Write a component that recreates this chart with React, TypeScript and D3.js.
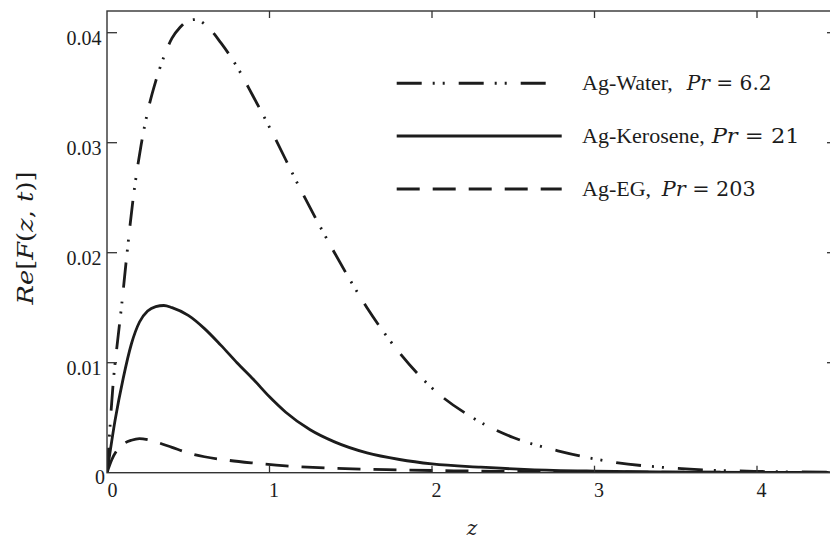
import React from "react";
import * as d3 from "d3";

// ---- data ----
const xTicks = [1, 2, 3, 4];
const yTicks = [0.01, 0.02, 0.03, 0.04];
const yTickLabels = ["0.01", "0.02", "0.03", "0.04"];

const zWater = [0, 0.02, 0.04, 0.06, 0.09, 0.12, 0.16, 0.21, 0.25, 0.3, 0.35, 0.4, 0.45, 0.5, 0.55, 0.6, 0.7, 0.8, 0.9, 1.0, 1.2, 1.4, 1.6, 1.8, 2.0, 2.25, 2.5, 2.8, 3.1, 3.5, 4.0, 4.5];
const vWater = [0, 0.0045, 0.0085, 0.0113, 0.0152, 0.0195, 0.0248, 0.0298, 0.0328, 0.0356, 0.0378, 0.0395, 0.0405, 0.0411, 0.0412, 0.0408, 0.0391, 0.0369, 0.0342, 0.0314, 0.0255, 0.02, 0.015, 0.0109, 0.0077, 0.005, 0.0032, 0.0019, 0.001, 0.0004, 0.00012, 0.00004];

const zKero = [0, 0.05, 0.1, 0.15, 0.2, 0.25, 0.3, 0.35, 0.4, 0.5, 0.6, 0.7, 0.8, 0.9, 1.0, 1.1, 1.25, 1.4, 1.6, 1.8, 2.0, 2.3, 2.6, 3.0, 3.5, 4.0, 4.5];
const vKero = [0, 0.0048, 0.0086, 0.0117, 0.0137, 0.0147, 0.0151, 0.0152, 0.015, 0.0143, 0.0131, 0.0116, 0.01, 0.0085, 0.0069, 0.0055, 0.0039, 0.0028, 0.0018, 0.0012, 0.0008, 0.0005, 0.00028, 0.00014, 0.00006, 0.00003, 0.00001];

const zEG = [0, 0.03, 0.06, 0.1, 0.15, 0.2, 0.25, 0.3, 0.4, 0.5, 0.6, 0.75, 0.9, 1.1, 1.4, 1.8, 2.2, 2.8, 3.5, 4.5];
const vEG = [0, 0.0012, 0.002, 0.0026, 0.00295, 0.0031, 0.003, 0.0028, 0.0023, 0.0018, 0.00145, 0.00112, 0.00088, 0.00062, 0.0004, 0.00025, 0.00016, 0.00009, 0.00005, 0.00002];

const seriesNames = ["Ag-Water,", "Ag-Kerosene,", "Ag-EG,"];
const seriesPr = ["6.2", "21", "203"];

const W = 830;
const H = 541;
const left = 107;
const right = 834;
const top = 11;
const bottom = 472.7;

const SERIF = "'Liberation Serif', 'Times New Roman', serif";
const MATH = "'DejaVu Serif', serif";

export default function App() {
  const x = d3.scaleLinear().domain([0, (right - left) / 162.5]).range([left, right]);
  const y = d3.scaleLinear().domain([0, (bottom - top) / 11000]).range([bottom, top]);

  const mk = (zs: number[], vs: number[]) =>
    d3
      .line<number>()
      .x((_, i) => x(zs[i]))
      .y((_, i) => y(vs[i]))
      .curve(d3.curveMonotoneX)(vs) || "";

  const series = [
    { d: mk(zWater, vWater), dash: "25,11,2,8,2,14" },
    { d: mk(zKero, vKero), dash: "none" },
    { d: mk(zEG, vEG), dash: "23,13" },
  ];

  const ink = "#1c1c1c";
  const legendY = [83.3, 136, 189];
  const legendX1 = [396.7, 396.7, 396.7];
  const legendX2 = [549, 561.7, 561.7];
  const prX = [686.7, 711.7, 661.7];
  const prLen = [85, 88, 94];

  return (
    <svg
      width={W}
      height={H}
      style={{ position: "absolute", left: 0, top: 0, background: "#fff" }}
    >
      <rect x={0} y={0} width={W} height={H} fill="#fff" />
      <defs>
        <clipPath id="plotclip">
          <rect x={left} y={top} width={right - left} height={bottom - top} />
        </clipPath>
      </defs>

      {/* curves */}
      <g clipPath="url(#plotclip)">
        {series.map((s, i) => (
          <path
            key={i}
            d={s.d}
            fill="none"
            stroke={ink}
            strokeWidth={2.8}
            strokeDasharray={s.dash}
          />
        ))}
      </g>

      {/* frame */}
      <rect x={left} y={top} width={right - left} height={bottom - top} fill="none" stroke="#333" strokeWidth={1.4} />

      {/* y ticks */}
      {yTicks.map((t, i) => (
        <g key={"y" + i}>
          <line x1={left} x2={left + 10} y1={y(t)} y2={y(t)} stroke="#333" strokeWidth={1.3} />
          <line x1={right} x2={right - 7} y1={y(t)} y2={y(t)} stroke="#333" strokeWidth={1.3} />
          <text x={101.5} y={y(t) + 12} textAnchor="end" fontSize={20} fontFamily={SERIF} fill={ink}>
            {yTickLabels[i]}
          </text>
        </g>
      ))}
      <text x={105} y={484} textAnchor="end" fontSize={20} fontFamily={SERIF} fill={ink}>0</text>

      {/* x ticks */}
      {xTicks.map((t, i) => (
        <g key={"x" + i}>
          <line x1={x(t)} x2={x(t)} y1={bottom} y2={bottom - 7} stroke="#333" strokeWidth={1.3} />
          <line x1={x(t)} x2={x(t)} y1={top} y2={top + 7} stroke="#333" strokeWidth={1.3} />
          <text x={x(t) + 4.5} y={497} textAnchor="middle" fontSize={20} fontFamily={SERIF} fill={ink}>
            {String(t)}
          </text>
        </g>
      ))}
      <text x={107.5} y={497} textAnchor="start" fontSize={20} fontFamily={SERIF} fill={ink}>0</text>

      {/* axis titles */}
      <text x={472} y={535} textAnchor="middle" fontSize={20} fontStyle="italic" fontFamily={MATH} fill={ink}>
        z
      </text>
      <text
        transform="translate(33,238) rotate(-90)"
        textAnchor="middle"
        fontSize={23}
        fontFamily={MATH}
        fill={ink}
        textLength={133}
        lengthAdjust="spacingAndGlyphs"
      >
        <tspan fontStyle="italic">Re</tspan>[<tspan fontStyle="italic">F</tspan>(<tspan fontStyle="italic">z</tspan>, <tspan fontStyle="italic">t</tspan>)]
      </text>

      {/* legend */}
      {series.map((s, i) => (
        <g key={"lg" + i}>
          <line
            x1={legendX1[i]}
            x2={legendX2[i]}
            y1={legendY[i]}
            y2={legendY[i]}
            stroke={ink}
            strokeWidth={3}
            strokeDasharray={s.dash}
          />
          <text x={582} y={legendY[i] + 6.7} fontSize={22} fontFamily={SERIF} fill={ink}>
            {seriesNames[i]}
          </text>
          <text
            x={prX[i]}
            y={legendY[i] + 6.7}
            fontSize={20}
            fontFamily={MATH}
            fill={ink}
            textLength={prLen[i]}
            lengthAdjust="spacingAndGlyphs"
          >
            <tspan fontStyle="italic">Pr</tspan> = {seriesPr[i]}
          </text>
        </g>
      ))}
    </svg>
  );
}
